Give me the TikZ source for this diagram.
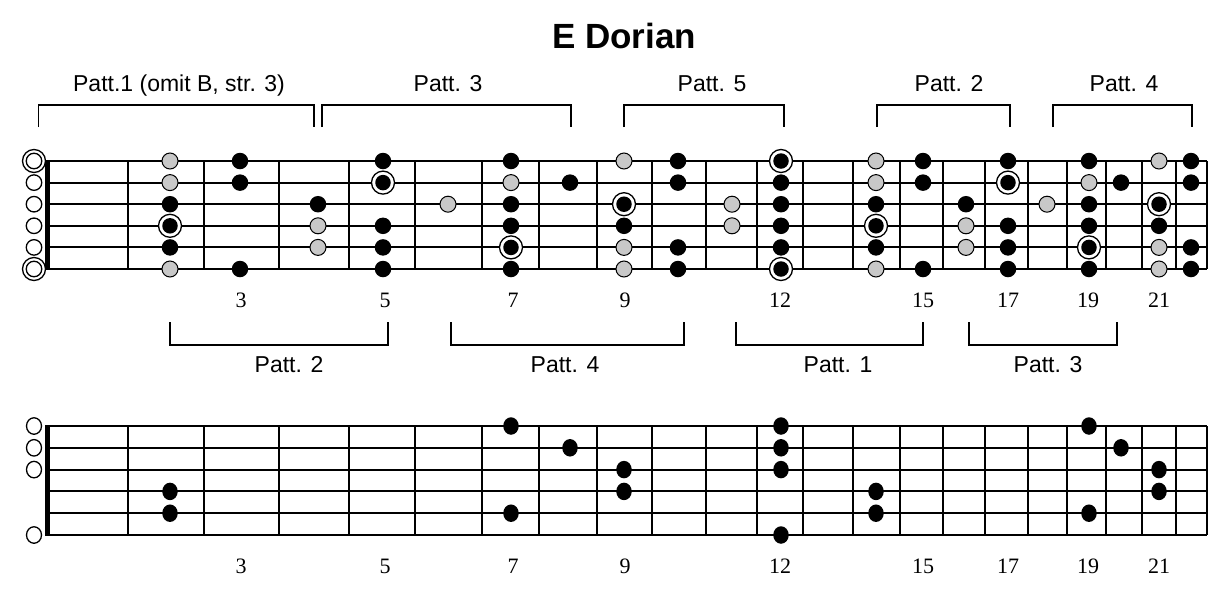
\documentclass[tikz,border=0pt]{standalone}
\usepackage{fontspec}
\usetikzlibrary{shapes.geometric}
\setmainfont{Liberation Serif}
\newfontfamily\sansf{Liberation Sans}
\definecolor{dotgray}{RGB}{200,200,200}
\begin{document}
\begin{tikzpicture}[x=1pt,y=-1pt,
  strg/.style={line width=1.9pt},
  fretl/.style={line width=2.1pt},
  brk/.style={line width=1.3pt},
  blk/.style={circle,fill=black,inner sep=0pt,minimum size=16.5pt},
  gry/.style={circle,draw=black,line width=1pt,fill=dotgray,inner sep=0pt,minimum size=16pt},
  ringc/.style={circle,draw=black,line width=1.3pt,fill=white,inner sep=0pt,minimum size=23pt},
  rootc/.style={circle,fill=black,inner sep=0pt,minimum size=15.5pt},
  opn/.style={circle,draw=black,line width=1.3pt,fill=white,inner sep=0pt,minimum size=15.5pt},
  bdot/.style={ellipse,fill=black,inner sep=0pt,minimum width=15.5pt,minimum height=17.5pt},
  bopn/.style={ellipse,draw=black,line width=1.3pt,fill=white,inner sep=0pt,minimum width=15pt,minimum height=16.5pt},
  lab/.style={font=\sansf\fontsize{23}{27}\selectfont,anchor=base,inner sep=0pt},
  num/.style={font=\fontsize{22}{26}\selectfont,anchor=base,inner sep=0pt},
  ttl/.style={font=\sansf\bfseries\fontsize{35}{40}\selectfont,anchor=base,inner sep=0pt}
]
\useasboundingbox (0,0) rectangle (1227,590);
\fill[white] (0,0) rectangle (1227,590);

% title
\node[ttl] (title) at (624,48) {E Dorian};

% ---------- top fretboard ----------
\foreach \s in {0,...,5} \draw[strg] (47,{161+21.6*\s}) -- (1207,{161+21.6*\s});
\foreach \x in {128,204,279,349,415,482,539,597,652,706,757,803,853,900,943,985,1028,1067,1106,1142,1176,1207}
  \draw[fretl] (\x,161) -- (\x,269);
\fill (45,160) rectangle (50,270);

% open strings
\foreach \s [count=\i] in {2,3,4,5} \node[opn] (to\i) at (34,{161+21.6*(\s-1)}) {};
\node[ringc] (tor1) at (34,161) {};
\node[opn] (to5) at (34,161) {};
\node[ringc] (tor6) at (34,269) {};
\node[opn] (to6) at (34,269) {};

% black dots
\foreach \x/\s [count=\i] in {170/3,170/5,240/1,240/2,240/6,318/3,383/1,383/4,383/5,383/6,
  511/1,511/3,511/4,511/6,570/2,624/4,678/1,678/2,678/5,678/6,781/2,781/3,781/4,781/5,
  876/3,876/5,923/1,923/2,923/6,966/3,1008/1,1008/4,1008/5,1008/6,1089/1,1089/3,1089/4,1089/6,
  1121/2,1159/4,1191/1,1191/2,1191/5,1191/6}
  \node[blk] (tb\i) at (\x,{161+21.6*(\s-1)}) {};

% gray dots
\foreach \x/\s [count=\i] in {170/1,170/2,170/6,318/4,318/5,448/3,511/2,624/1,624/5,624/6,
  732/3,732/4,876/1,876/2,876/6,966/4,966/5,1047/3,1089/2,1159/1,1159/5,1159/6}
  \node[gry] (tg\i) at (\x,{161+21.6*(\s-1)}) {};

% root dots
\foreach \x/\s [count=\i] in {170/4,383/2,511/5,624/3,781/1,781/6,876/4,1008/2,1089/5,1159/3}
  {\node[ringc] (tr\i) at (\x,{161+21.6*(\s-1)}) {};
   \node[rootc] (trd\i) at (\x,{161+21.6*(\s-1)}) {};}

% fret numbers
\foreach \x/\n [count=\i] in {241/3,385/5,513/7,625/9,780/12,923/15,1008/17,1088/19,1159/21}
  {\node[num] (tn\i) at (\x,307) {\n};
   \node[num] (bn\i) at (\x,573) {\n};}

% top brackets
\foreach \a/\b [count=\i] in {38.5/314,322/571,624/784,877/1010,1053/1192}
  \draw[brk] (\a,127) -- (\a,105) -- (\b,105) -- (\b,127);
\node[lab] (tl1) at (179,91) {Patt.1 (omit B, str. 3)};
\node[lab] (tl2) at (448,91) {Patt. 3};
\node[lab] (tl3) at (712,91) {Patt. 5};
\node[lab] (tl4) at (949,91) {Patt. 2};
\node[lab] (tl5) at (1124,91) {Patt. 4};

% bottom brackets
\foreach \a/\b [count=\i] in {170/388,451/684,736/923,969/1117}
  \draw[brk] (\a,322) -- (\a,345) -- (\b,345) -- (\b,322);
\node[lab] (ml1) at (289,372) {Patt. 2};
\node[lab] (ml2) at (565,372) {Patt. 4};
\node[lab] (ml3) at (838,372) {Patt. 1};
\node[lab] (ml4) at (1048,372) {Patt. 3};

% ---------- bottom fretboard ----------
\foreach \s in {0,...,5} \draw[strg] (47,{426+21.8*\s}) -- (1207,{426+21.8*\s});
\foreach \x in {128,204,279,349,415,482,539,597,652,706,757,803,853,900,943,985,1028,1067,1106,1142,1176,1207}
  \draw[fretl] (\x,426) -- (\x,535);
\fill (45,425) rectangle (50,536);

\foreach \s [count=\i] in {1,2,3,6} \node[bopn] (bo\i) at (34,{426+21.8*(\s-1)}) {};

\foreach \x/\s [count=\i] in {170/4,170/5,511/1,511/5,570/2,624/3,624/4,781/1,781/2,781/3,781/6,
  876/4,876/5,1089/1,1089/5,1121/2,1159/3,1159/4}
  \node[bdot] (bb\i) at (\x,{426+21.8*(\s-1)}) {};
\end{tikzpicture}
\end{document}
